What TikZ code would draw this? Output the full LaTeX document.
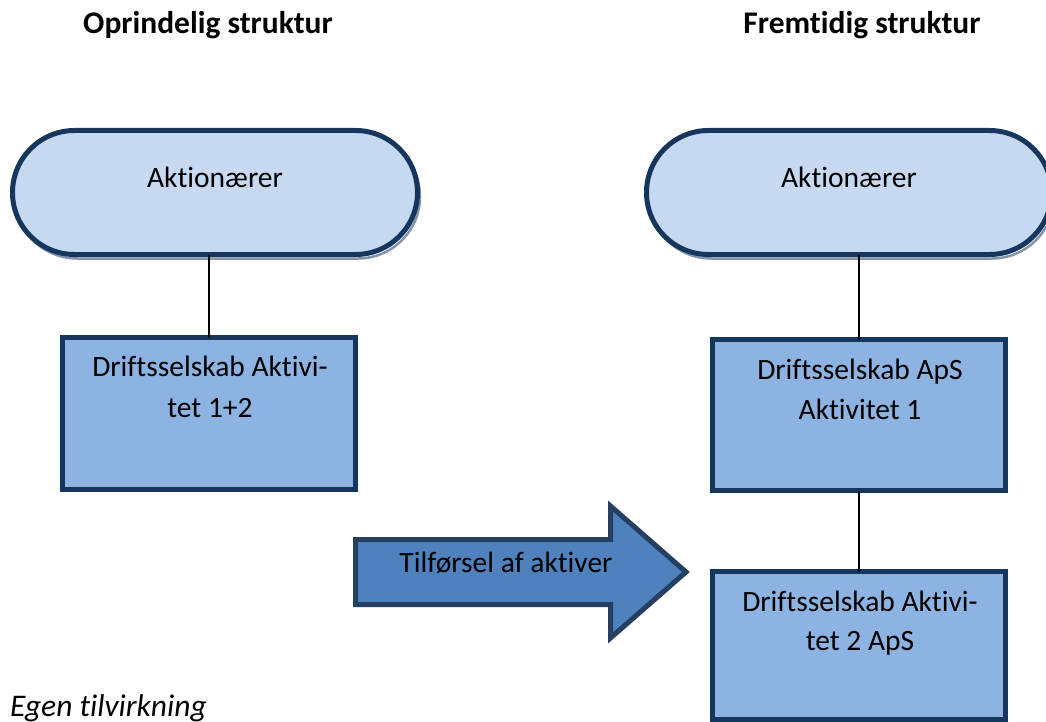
\documentclass[tikz,border=0pt]{standalone}
\usepackage{fontspec}
\setmainfont{Carlito}[Ligatures={NoCommon}]
\begin{document}
\definecolor{navy}{HTML}{17365D}
\definecolor{pillfill}{HTML}{C6D9F1}
\definecolor{boxfill}{HTML}{8DB3E2}
\definecolor{arrowfill}{HTML}{4F81BD}
\definecolor{arrowline}{HTML}{243F60}
\definecolor{shadowline}{HTML}{8494AB}
\begin{tikzpicture}[x=1pt,y=-1pt,
  txt/.style={inner sep=0pt,anchor=base,font=\fontsize{29.5}{35}\selectfont},
  ttl/.style={inner sep=0pt,anchor=base,font=\fontsize{31.5}{38}\selectfont\bfseries},
  pill/.style={draw=navy,fill=pillfill,line width=5pt,rounded corners=62pt,
    minimum width=405pt,minimum height=124pt,inner sep=0pt,outer sep=0pt},
  pillshadow/.style={draw=shadowline,line width=2.5pt,rounded corners=62pt,
    minimum width=405pt,minimum height=124pt,inner sep=0pt,outer sep=0pt},
  boxnode/.style={draw=navy,fill=boxfill,line width=5pt,inner sep=0pt,outer sep=0pt},
  link/.style={draw=black,line width=1.6pt}]
\useasboundingbox (0,0) rectangle (1046,722);

% column titles
\node[ttl] (t1) at (208,33.5) {Oprindelig struktur};
\node[ttl] (t2) at (862,33.5) {Fremtidig struktur};

% shareholders (left and right)
\node[pillshadow] (lsh) at (217.5,196.5) {};
\node[pill] (ls) at (215,192.5) {};
\node[txt] (lst) at (215,187) {Aktionærer};
\node[pillshadow] (rsh) at (851.5,196.5) {};
\node[pill] (rs) at (849,192.5) {};
\node[txt] (rst) at (849,187) {Aktionærer};

% companies
\node[boxnode,minimum width=293pt,minimum height=152pt] (lb) at (209,413.5) {};
\node[txt] (lb1) at (210,376) {Driftsselskab Aktivi-};
\node[txt] (lb2) at (210,417) {tet 1+2};

\node[boxnode,minimum width=293pt,minimum height=151pt] (rb1) at (859,415) {};
\node[txt] (rb11) at (860,379) {Driftsselskab ApS};
\node[txt] (rb12) at (860,419) {Aktivitet 1};

\node[boxnode,minimum width=293pt,minimum height=148pt] (rb2) at (859,645.5) {};
\node[txt] (rb21) at (860,611) {Driftsselskab Aktivi-};
\node[txt] (rb22) at (860,650) {tet 2 ApS};

% ownership lines
\draw[link] (lb.north) -- (lb.north |- ls.south);
\draw[link] (rb1.north) -- (rb1.north |- rs.south);
\draw[link] (rb2.north) -- (rb1.south);

% transfer arrow
\draw[draw=arrowline,fill=arrowfill,line width=5pt,line join=miter]
  (355.5,539.5) -- (610.5,539.5) -- (610.5,506) -- (686,572) -- (610.5,638)
  -- (610.5,604.5) -- (355.5,604.5) -- cycle;
\node[txt] (at) at (506,572) {Tilførsel af aktiver};

% source note
\node[txt,anchor=base west,font=\fontsize{31.5}{38}\selectfont\itshape] (src) at (10,716) {Egen tilvirkning};
\end{tikzpicture}
\end{document}
